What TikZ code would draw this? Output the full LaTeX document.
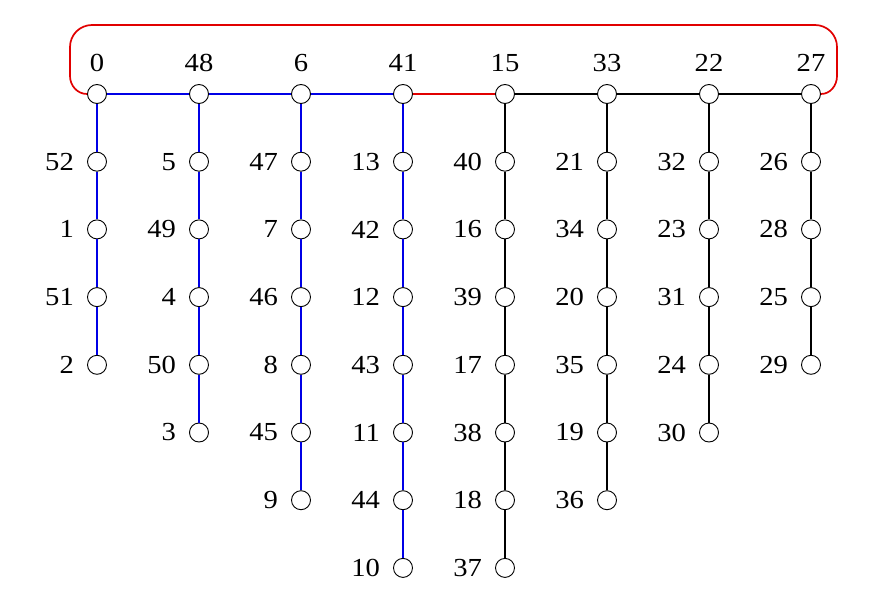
\documentclass[tikz,border=0pt]{standalone}
\usepackage{fontspec}
\setmainfont{Liberation Serif}
\newcommand{\lblwide}[1]{\scalebox{1.1}[1]{#1}}
\begin{document}
\begin{tikzpicture}[x=1pt,y=-1pt]
\tikzset{
  vtx/.style={circle, draw=black, fill=white, minimum size=19pt, inner sep=0pt, line width=0.9pt},
  every label/.style={font=\fontsize{26}{30}\selectfont, inner sep=0pt},
  toplbl/.style={label={[label distance=12pt]above:\lblwide{#1}}},
  leftlbl/.style={label={[label distance=13pt]left:\lblwide{#1}}},
  bedge/.style={draw={rgb,255:red,0;green,0;blue,230}, line width=1.7pt},
  kedge/.style={draw=black, line width=1.7pt},
  redge/.style={draw={rgb,255:red,225;green,0;blue,0}, line width=1.7pt}
}
\useasboundingbox (0,0) rectangle (876,613);
\foreach \c/\t in {0/0,1/48,2/6,3/41,4/15,5/33,6/22,7/27}{
  \node[vtx, toplbl=\t] (v\t) at ({97+102*\c},94) {};
}
\foreach \c/\t/\l in {0/0/{52,1,51,2},1/48/{5,49,4,50,3},2/6/{47,7,46,8,45,9},3/41/{13,42,12,43,11,44,10},4/15/{40,16,39,17,38,18,37},5/33/{21,34,20,35,19,36},6/22/{32,23,31,24,30},7/27/{26,28,25,29}}{
  \foreach \v [count=\k] in \l {
    \node[vtx, leftlbl=\v] (v\v) at ({97+102*\c},{94+67.7*\k}) {};
  }
}
\draw[bedge] (v0) -- (v52) -- (v1) -- (v51) -- (v2);
\draw[bedge] (v48) -- (v5) -- (v49) -- (v4) -- (v50) -- (v3);
\draw[bedge] (v6) -- (v47) -- (v7) -- (v46) -- (v8) -- (v45) -- (v9);
\draw[bedge] (v41) -- (v13) -- (v42) -- (v12) -- (v43) -- (v11) -- (v44) -- (v10);
\draw[kedge] (v15) -- (v40) -- (v16) -- (v39) -- (v17) -- (v38) -- (v18) -- (v37);
\draw[kedge] (v33) -- (v21) -- (v34) -- (v20) -- (v35) -- (v19) -- (v36);
\draw[kedge] (v22) -- (v32) -- (v23) -- (v31) -- (v24) -- (v30);
\draw[kedge] (v27) -- (v26) -- (v28) -- (v25) -- (v29);
\draw[bedge] (v0) -- (v48);
\draw[bedge] (v48) -- (v6);
\draw[bedge] (v6) -- (v41);
\draw[redge] (v41) -- (v15);
\draw[kedge] (v15) -- (v33);
\draw[kedge] (v33) -- (v22);
\draw[kedge] (v22) -- (v27);
\coordinate (la) at (70,76);
\coordinate (lb) at (70,47);
\coordinate (lc) at (92,25);
\coordinate (rc) at (815,25);
\coordinate (rb) at (837,47);
\coordinate (ra) at (837,76);
\draw[redge] (v0.west) to[out=180,in=-90] (la) -- (lb) to[out=90,in=180] (lc) -- (rc) to[out=0,in=90] (rb) -- (ra) to[out=-90,in=0] (v27.east);
\end{tikzpicture}
\end{document}
